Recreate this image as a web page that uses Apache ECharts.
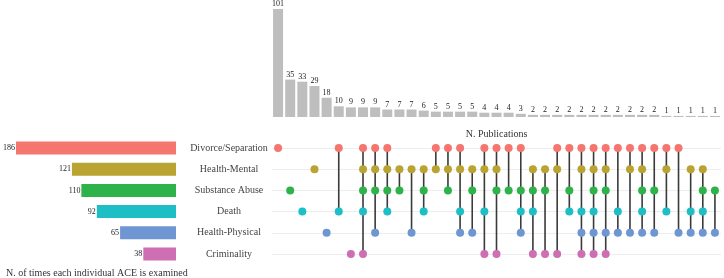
<!DOCTYPE html>
<html>
<head>
<meta charset="utf-8">
<script src="https://cdn.jsdelivr.net/npm/echarts@6/dist/echarts.min.js"></script>
<style>
  html, body { margin: 0; padding: 0; background: #fff; }
  #chart { width: 724px; height: 278px; }
</style>
</head>
<body>
<div id="chart"></div>
<script>
// ACE categories (top to bottom) and how often each one is examined
const sets = ['Divorce/Separation', 'Health-Mental', 'Substance Abuse', 'Death', 'Health-Physical', 'Criminality'];
const setSizes = [186, 121, 110, 92, 65, 38];
const setColors = ['#F4766E', '#B9A331', '#2DB34A', '#1DBFC4', '#6E96D3', '#CD6FB2'];

// publications per combination (columns, left to right)
const pubCounts = [101, 35, 33, 29, 18, 10, 9, 9, 9, 7, 7, 7, 6, 5, 5, 5, 5, 4, 4, 4, 3,
  2, 2, 2, 2, 2, 2, 2, 2, 2, 2, 2, 1, 1, 1, 1, 1];

// which sets make up each combination (indices into sets)
const combos = [
  [0], [2], [3], [1], [4], [0, 3], [5], [0, 1, 2, 3, 5], [0, 1, 2, 4], [0, 1, 2, 3],
  [1, 2], [1, 4], [1, 2, 3], [0, 1], [0, 1, 2], [0, 1, 3, 4], [1, 2, 4], [0, 1, 3, 5],
  [0, 1, 2, 5], [0, 2], [0, 2, 3, 4], [1, 2, 3, 5], [1, 2, 5], [0, 1, 5], [0, 2, 3],
  [0, 1, 3, 4, 5], [0, 1, 2, 3, 4, 5], [0, 1, 2, 4, 5], [0, 3, 4], [0, 1, 4],
  [0, 1, 2, 3, 4], [0, 2, 4], [0, 1, 3], [0, 4], [1, 3, 4], [1, 2, 3, 4], [2, 4]
];

const cols = pubCounts.map((v, i) => String(i));
const serif = 'Liberation Serif, Times New Roman, serif';

// dots
let dots = [];
combos.forEach((c, i) => {
  c.forEach(s => {
    dots.push({ value: [i, s], itemStyle: { color: setColors[s] } });
  });
});
// connecting segments
let segs = combos
  .map((c, i) => [i, Math.min(...c), Math.max(...c)])
  .filter(d => d[1] !== d[2]);

let chart = echarts.init(document.getElementById('chart'));

chart.setOption({
  animation: false,
  textStyle: { fontFamily: serif },
  title: {
    text: 'N. of times each individual ACE is examined',
    left: 1,
    top: 263,
    textStyle: { fontFamily: serif, fontSize: 10, fontWeight: 'normal', color: '#333' }
  },
  grid: [
    { left: 272, width: 449, top: 9, height: 108 },
    { left: 272, width: 449, top: 137.5, height: 127 },
    { left: 16, width: 160, top: 137.5, height: 127 }
  ],
  xAxis: [
    {
      gridIndex: 0, type: 'category', data: cols,
      axisLine: { show: false }, axisTick: { show: false }, axisLabel: { show: false },
      name: 'N. Publications', nameLocation: 'middle', nameGap: 12,
      nameTextStyle: { fontFamily: serif, fontSize: 10, color: '#333' }
    },
    {
      gridIndex: 1, type: 'category', data: cols,
      axisLine: { show: false }, axisTick: { show: false }, axisLabel: { show: false }
    },
    {
      gridIndex: 2, type: 'value', min: 0, max: 186, inverse: true,
      axisLine: { show: false }, axisTick: { show: false }, axisLabel: { show: false },
      splitLine: { show: false }
    }
  ],
  yAxis: [
    {
      gridIndex: 0, type: 'value', min: 0, max: 101,
      axisLine: { show: false }, axisTick: { show: false }, axisLabel: { show: false },
      splitLine: { show: false }
    },
    {
      gridIndex: 1, type: 'category', data: sets, inverse: true,
      axisLine: { show: false }, axisTick: { show: false },
      axisLabel: { align: 'center', margin: 43, fontFamily: serif, fontSize: 10, color: '#444' }
    },
    {
      gridIndex: 2, type: 'category', data: sets, inverse: true,
      axisLine: { show: false }, axisTick: { show: false }, axisLabel: { show: false }
    }
  ],
  series: [
    {
      type: 'bar', xAxisIndex: 0, yAxisIndex: 0,
      data: pubCounts, barWidth: 10,
      itemStyle: { color: '#BEBEBE' },
      label: { show: true, position: 'top', distance: 1, fontFamily: serif, fontSize: 8, color: '#222' }
    },
    {
      type: 'bar', xAxisIndex: 2, yAxisIndex: 2,
      data: setSizes.map((v, i) => ({ value: v, itemStyle: { color: setColors[i] } })),
      barWidth: 13,
      label: { show: true, position: 'left', distance: 1, fontFamily: serif, fontSize: 8, color: '#222' }
    },
    {
      // faint row guides behind the matrix
      type: 'scatter', xAxisIndex: 1, yAxisIndex: 1,
      data: [], z: 0, silent: true,
      markLine: {
        silent: true, symbol: 'none', label: { show: false }, z: 0,
        lineStyle: { color: '#EDEDED', type: 'solid', width: 1 },
        data: sets.map(s => ({ yAxis: s }))
      }
    },
    {
      type: 'custom', xAxisIndex: 1, yAxisIndex: 1,
      data: segs, z: 2,
      renderItem: function (params, api) {
        let p1 = api.coord([api.value(0), api.value(1)]);
        let p2 = api.coord([api.value(0), api.value(2)]);
        return {
          type: 'line',
          shape: { x1: p1[0], y1: p1[1], x2: p2[0], y2: p2[1] },
          style: { stroke: '#3a3a3a', lineWidth: 1.6 }
        };
      }
    },
    {
      type: 'scatter', xAxisIndex: 1, yAxisIndex: 1,
      data: dots, symbolSize: 8, z: 3,
      itemStyle: { opacity: 1 }
    }
  ]
});
</script>
</body>
</html>
